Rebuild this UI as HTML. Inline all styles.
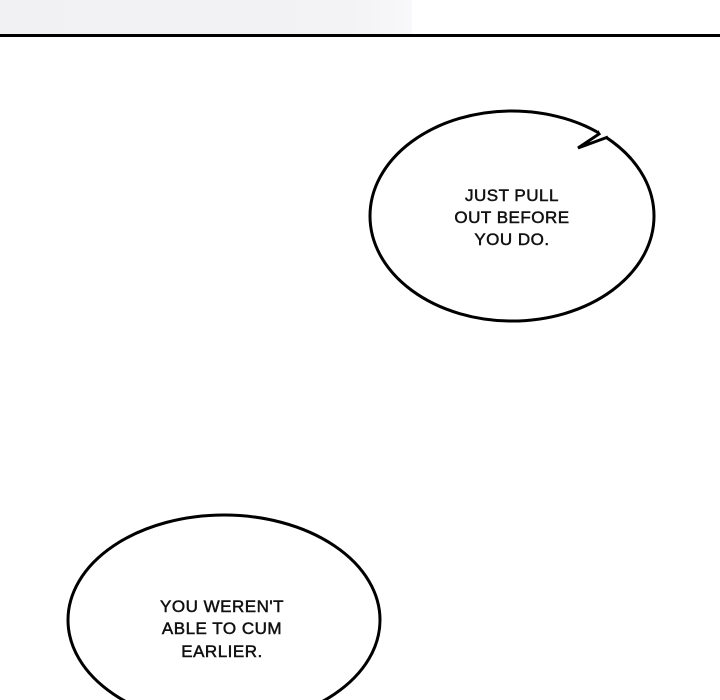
<!DOCTYPE html>
<html><head><style>
html,body{margin:0;padding:0;background:#fff;}
body{width:720px;height:700px;position:relative;overflow:hidden;}
</style></head><body>
<div style="position:absolute;left:0;top:0;width:412px;height:34px;background:linear-gradient(90deg,#f1f1f3,#f3f3f5 85%,#f8f8fa);"></div>
<div style="position:absolute;left:0;top:34px;width:720px;height:3px;background:#000;"></div>
<svg width="720" height="700" style="position:absolute;left:0;top:0" xmlns="http://www.w3.org/2000/svg">
<ellipse cx="512" cy="216" rx="142" ry="105" fill="#fff" stroke="#000" stroke-width="3"/>
<polygon points="597,126 597,132 598,134 578,148 608,137 610,131" fill="#fff" stroke="none"/>
<polyline points="597,131 599,134 578,148 608,137" fill="none" stroke="#000" stroke-width="3" stroke-linejoin="miter"/>
<ellipse cx="224" cy="620" rx="156" ry="105" fill="#fff" stroke="#000" stroke-width="3"/>
<g font-family="Liberation Sans, sans-serif" font-size="17" text-anchor="middle" fill="#111" stroke="#111" stroke-width="0.5" letter-spacing="0.5">
<text x="512" y="201">JUST PULL</text>
<text x="512" y="223">OUT BEFORE</text>
<text x="512" y="245">YOU DO.</text>
<text x="222" y="612">YOU WEREN'T</text>
<text x="222" y="634">ABLE TO CUM</text>
<text x="222" y="657">EARLIER.</text>
</g>
</svg>
</body></html>
